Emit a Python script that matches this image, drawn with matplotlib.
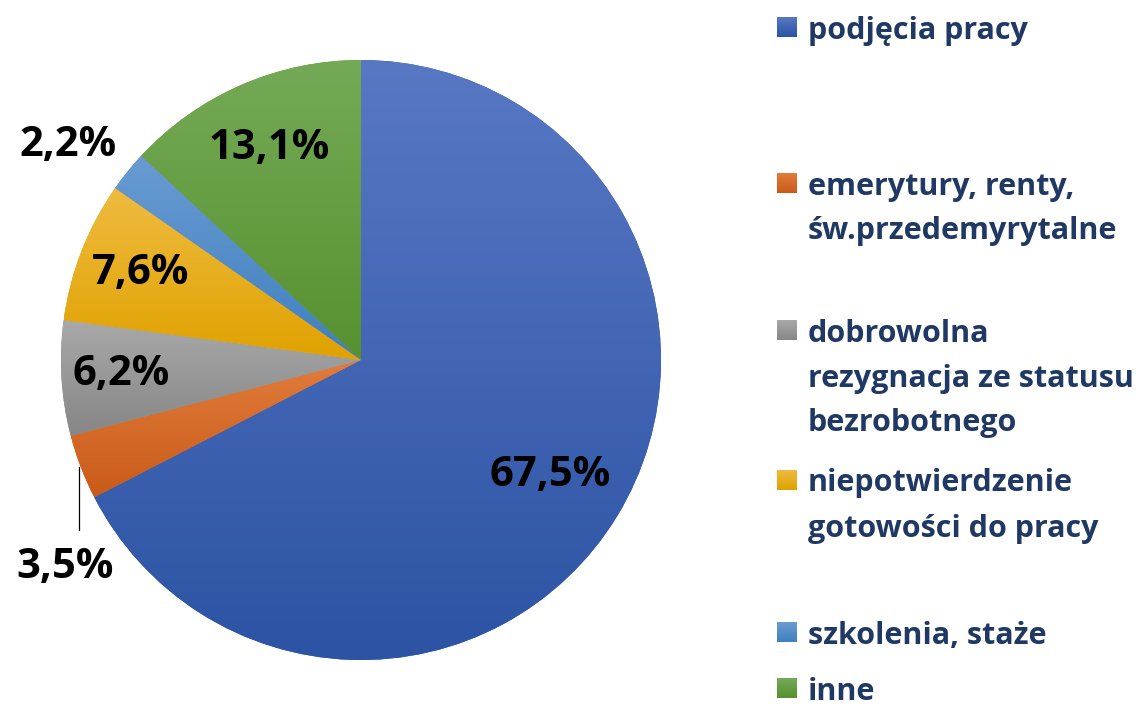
import numpy as np
import matplotlib.pyplot as plt
from matplotlib.colors import LinearSegmentedColormap

plt.rcParams['font.family'] = ['Open Sans', 'DejaVu Sans']

categories = ['podjęcia pracy',
              'emerytury, renty,\nśw.przedemyrytalne',
              'dobrowolna\nrezygnacja ze statusu\nbezrobotnego',
              'niepotwierdzenie\ngotowości do pracy',
              'szkolenia, staże',
              'inne']
shares = [67.5, 3.5, 6.2, 7.6, 2.2, 13.1]
share_labels = ['67,5%', '3,5%', '6,2%', '7,6%', '2,2%', '13,1%']

# light (top) / dark (bottom) shade of each slice
top_colors = ['#5878c4', '#e27c3c', '#a9a9a9', '#eebb40', '#6a9bd2', '#74aa56']
bottom_colors = ['#2c53a4', '#c95b18', '#868686', '#e0a200', '#3f80bf', '#57912f']

W, H = 1139, 707
fig = plt.figure(figsize=(W / 100, H / 100), dpi=100)

# pie centre (361, 360) px, radius 300 px
cx, cy, R = 361, 360, 300
ax = fig.add_axes([(cx - R) / W, (H - cy - R) / H, 2 * R / W, 2 * R / H])

wedges, _ = ax.pie(shares, startangle=90, counterclock=False,
                   colors=bottom_colors, wedgeprops=dict(linewidth=0))

# vertical gradient inside every slice
grad = np.linspace(0, 1, 256).reshape(-1, 1)
for w, c_top, c_bot in zip(wedges, top_colors, bottom_colors):
    ext = w.get_path().get_extents()
    cmap = LinearSegmentedColormap.from_list('g', [c_bot, c_top])
    im = ax.imshow(grad, cmap=cmap, origin='lower', aspect='auto',
                   extent=[ext.x0, ext.x1, ext.y0, ext.y1], zorder=2)
    im.set_clip_path(w)

ax.set_xlim(-1, 1)
ax.set_ylim(-1, 1)
ax.axis('off')

# percentage labels
lab_font = dict(fontsize=30, fontweight='bold', color='black',
                ha='center', va='center')
inner_r = [0.74, None, 0.80, 0.79, None, 0.77]
total = sum(shares)
start = 90.0
for i, (v, txt) in enumerate(zip(shares, share_labels)):
    span = v / total * 360
    mid = np.radians(start - span / 2)
    start -= span
    if inner_r[i] is not None:
        ax.text(inner_r[i] * np.cos(mid), inner_r[i] * np.sin(mid), txt, **lab_font)

ax.text(-0.977, 0.715, share_labels[4], **lab_font)
ax.text(-0.987, -0.693, share_labels[1], **lab_font)
ax.plot([-0.94, -0.94], [-0.357, -0.567], color='black', lw=0.9, clip_on=False)

# legend
leg_color = '#1f3864'
first_y = [27, 183, 330, 480, 632, 688]
line_gap = 45
for i, name in enumerate(categories):
    y0 = first_y[i]
    mk = fig.add_axes([777 / W, (H - y0 - 10) / H, 20 / W, 20 / H])
    mk.imshow(grad, cmap=LinearSegmentedColormap.from_list('m', [bottom_colors[i], top_colors[i]]),
              origin='lower', aspect='auto', extent=[0, 1, 0, 1])
    mk.axis('off')
    for j, line in enumerate(name.split('\n')):
        fig.text(808 / W, (H - y0 - j * line_gap) / H, line, fontsize=22,
                 fontweight='bold', color=leg_color, ha='left', va='center_baseline')

fig.savefig('out.png', dpi=100)
